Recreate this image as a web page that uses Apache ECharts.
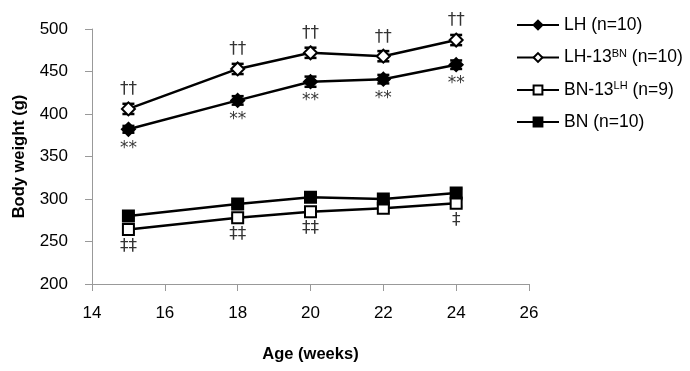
<!DOCTYPE html>
<html>
<head>
<meta charset="utf-8">
<script src="https://cdn.jsdelivr.net/npm/echarts@6/dist/echarts.min.js"></script>
<style>
  html, body { margin: 0; padding: 0; background: #fff; }
  #chart { width: 690px; height: 371px; }
</style>
</head>
<body>
<div id="chart"></div>
<script>
// ages in weeks
var ages = [15, 18, 20, 22, 24];

// body weight means (g) and error (SEM)
var lhMean = [382, 416, 438, 441, 458];
var lhErr = [4, 5, 6, 5, 5];
var lh13Mean = [406, 453, 472, 468, 487];
var lh13Err = [6, 6, 6, 6, 6];
var bn13Mean = [264, 278, 285, 289, 295];
var bn13Err = [3, 3, 3, 3, 4];
var bnMean = [280, 294, 302, 300, 307];
var bnErr = [3, 3, 3, 3, 5];

// significance marks
var lhMarks = ['**', '**', '**', '**', '**'];
var lh13Marks = ['††', '††', '††', '††', '††'];
var bn13Marks = ['‡‡', '‡‡', '‡‡', '', '‡'];

var xTicks = [14, 16, 18, 20, 22, 24, 26];
var yTicks = [200, 250, 300, 350, 400, 450, 500];

var FONT = '"Liberation Sans", Arial, sans-serif';
var MARKFONT = '"DejaVu Sans", sans-serif';

function pts(mean) {
	return ages.map(function (a, i) { return [a, mean[i]]; });
}

function errData(mean, err) {
	return ages.map(function (a, i) { return [a, mean[i] - err[i], mean[i] + err[i]]; });
}

function errSeries(mean, err) {
	return {
		type: 'custom',
		data: errData(mean, err),
		z: 1,
		silent: true,
		renderItem: function (params, api) {
			var lo = api.coord([api.value(0), api.value(1)]);
			var hi = api.coord([api.value(0), api.value(2)]);
			var w = 6;
			var st = { stroke: '#000', lineWidth: 2.5 };
			return {
				type: 'group',
				children: [
					{ type: 'line', shape: { x1: lo[0], y1: lo[1], x2: hi[0], y2: hi[1] }, style: st },
					{ type: 'line', shape: { x1: lo[0] - w, y1: lo[1], x2: lo[0] + w, y2: lo[1] }, style: st },
					{ type: 'line', shape: { x1: hi[0] - w, y1: hi[1], x2: hi[0] + w, y2: hi[1] }, style: st }
				]
			};
		}
	};
}

function markSeries(mean, marks, pos, dist) {
	return {
		type: 'scatter',
		symbolSize: 1,
		itemStyle: { color: 'rgba(0,0,0,0)' },
		silent: true,
		data: ages.map(function (a, i) { return [a, mean[i], marks[i]]; }),
		label: {
			show: true,
			position: pos,
			distance: dist,
			color: '#000',
			fontFamily: MARKFONT,
			fontSize: 17,
			formatter: function (p) { return p.data[2]; }
		}
	};
}

function lineSeries(name, mean, symbol, fill) {
	return {
		name: name,
		type: 'line',
		data: pts(mean),
		symbol: symbol,
		symbolSize: symbol === 'diamond' ? 13 : 11,
		z: 3,
		lineStyle: { color: '#000', width: 2.5 },
		itemStyle: { color: fill, borderColor: '#000', borderWidth: 2 }
	};
}

var chart = echarts.init(document.getElementById('chart'));
var option = {
	animation: false,
	backgroundColor: '#fff',
	textStyle: { fontFamily: FONT },
	grid: { left: 92, right: 161, top: 29, bottom: 87 },
	legend: {
		data: ['LH', 'LH-13BN', 'BN-13LH', 'BN'],
		orient: 'vertical',
		left: 511,
		top: 11,
		itemWidth: 42,
		itemHeight: 11,
		itemGap: 14,
		selectedMode: false,
		textStyle: {
			fontFamily: FONT,
			fontSize: 17.5,
			color: '#000',
			rich: {
				sup: { fontSize: 11, verticalAlign: 'top', padding: [0, 0, 8, 0], color: '#000', fontFamily: FONT }
			}
		},
		formatter: function (name) {
			if (name === 'LH') return 'LH (n=10)';
			if (name === 'LH-13BN') return 'LH-13{sup|BN} (n=10)';
			if (name === 'BN-13LH') return 'BN-13{sup|LH} (n=9)';
			return 'BN (n=10)';
		}
	},
	xAxis: {
		type: 'value',
		min: xTicks[0],
		max: xTicks[xTicks.length - 1],
		interval: 2,
		name: 'Age (weeks)',
		nameLocation: 'middle',
		nameGap: 62,
		nameTextStyle: { fontFamily: FONT, fontSize: 16.5, fontWeight: 'bold', color: '#000' },
		axisLine: { lineStyle: { color: '#999', width: 1 } },
		axisTick: { show: true, length: 7, lineStyle: { color: '#999' } },
		axisLabel: { fontFamily: FONT, fontSize: 17, color: '#000', margin: 21 },
		splitLine: { show: false }
	},
	yAxis: {
		type: 'value',
		min: yTicks[0],
		max: yTicks[yTicks.length - 1],
		interval: 50,
		name: 'Body weight (g)',
		nameLocation: 'middle',
		nameGap: 64,
		nameRotate: 90,
		nameTextStyle: { fontFamily: FONT, fontSize: 16.5, fontWeight: 'bold', color: '#000' },
		axisLine: { show: true, lineStyle: { color: '#999', width: 1 } },
		axisTick: { show: true, length: 7, lineStyle: { color: '#999' } },
		axisLabel: { fontFamily: FONT, fontSize: 17, color: '#000', margin: 24 },
		splitLine: { show: false }
	},
	series: [
		errSeries(lhMean, lhErr),
		errSeries(lh13Mean, lh13Err),
		errSeries(bn13Mean, bn13Err),
		errSeries(bnMean, bnErr),
		lineSeries('LH', lhMean, 'diamond', '#000'),
		lineSeries('LH-13BN', lh13Mean, 'diamond', '#fff'),
		lineSeries('BN-13LH', bn13Mean, 'rect', '#fff'),
		lineSeries('BN', bnMean, 'rect', '#000'),
		markSeries(lhMean, lhMarks, 'bottom', 10),
		markSeries(lh13Mean, lh13Marks, 'top', 10),
		markSeries(bn13Mean, bn13Marks, 'bottom', 8)
	]
};
chart.setOption(option);
</script>
</body>
</html>
